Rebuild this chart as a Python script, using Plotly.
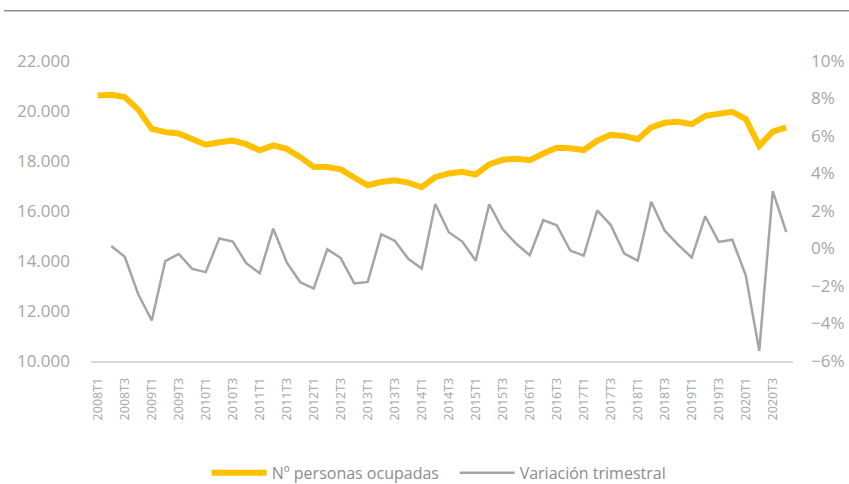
import plotly.graph_objects as go

years = list(range(2008, 2021))
quarters = [f"{y}T{q}" for y in years for q in range(1, 5)]

ocupados = [
    20620, 20646, 20556, 20055, 19284, 19154, 19098, 18890,
    18652, 18751, 18820, 18674, 18427, 18623, 18485, 18153,
    17765, 17758, 17667, 17339, 17030, 17160, 17230, 17135,
    16951, 17353, 17504, 17569, 17455, 17867, 18049, 18094,
    18029, 18301, 18528, 18508, 18438, 18813, 19049, 18998,
    18874, 19344, 19528, 19565, 19471, 19805, 19874, 19967,
    19681, 18607, 19177, 19344,
]

variacion = [
    None, 0.13, -0.44, -2.44, -3.84, -0.67, -0.29, -1.09,
    -1.26, 0.53, 0.37, -0.78, -1.32, 1.06, -0.74, -1.80,
    -2.14, -0.04, -0.51, -1.86, -1.78, 0.76, 0.41, -0.55,
    -1.07, 2.37, 0.87, 0.37, -0.65, 2.36, 1.02, 0.25,
    -0.36, 1.51, 1.24, -0.11, -0.38, 2.03, 1.25, -0.27,
    -0.65, 2.49, 0.95, 0.19, -0.48, 1.72, 0.35, 0.47,
    -1.43, -5.46, 3.06, 0.87,
]

tick_labels = quarters[::2]

FONT = "Open Sans"
TICK_COLOR = "#a6a6a6"

fig = go.Figure()
fig.add_trace(go.Scatter(
    x=quarters, y=ocupados, name="Nº personas ocupadas", mode="lines",
    line=dict(color="#FFC000", width=6), yaxis="y",
))
fig.add_trace(go.Scatter(
    x=quarters, y=variacion, name="Variación trimestral", mode="lines",
    line=dict(color="#A5A5A5", width=2.5), yaxis="y2", connectgaps=False,
))

fig.update_layout(
    width=849, height=484,
    margin=dict(l=91, r=56, t=61, b=123, autoexpand=False),
    paper_bgcolor="white", plot_bgcolor="white",
    separators=",.",
    font=dict(family=FONT, color=TICK_COLOR),
    xaxis=dict(
        type="category", range=[-0.5, len(quarters) - 0.5],
        tickmode="array", tickvals=tick_labels, ticktext=tick_labels,
        tickangle=-90, tickfont=dict(size=12.5, color=TICK_COLOR),
        showgrid=False, zeroline=False, automargin=False,
        showline=True, linecolor="#d9d9d9", linewidth=1.5,
        ticks="", ticklabelstandoff=10,
    ),
    yaxis=dict(
        range=[10000, 22000], dtick=2000, tickformat=",.0f",
        tickfont=dict(size=17, color=TICK_COLOR), automargin=False,
        showgrid=False, zeroline=False, showline=False,
        ticks="", ticklabelstandoff=20,
    ),
    yaxis2=dict(
        overlaying="y", side="right",
        range=[-6, 10], dtick=2, ticksuffix="%", automargin=False,
        tickfont=dict(size=17, color=TICK_COLOR),
        showgrid=False, zeroline=False, showline=False,
        ticks="", ticklabelstandoff=17,
    ),
    showlegend=True,
    legend=dict(
        orientation="h", x=0.518, xanchor="center", y=-0.373, yanchor="middle",
        font=dict(size=16, color="#8c8c8c", family=FONT),
        itemwidth=55, tracegroupgap=0, bgcolor="rgba(0,0,0,0)",
        entrywidth=178, entrywidthmode="pixels",
    ),
    shapes=[dict(
        type="line", xref="paper", yref="paper",
        x0=-0.124, x1=1.08, y0=1.1677, y1=1.1677,
        line=dict(color="#8c8c8c", width=1.5),
    )],
)

fig.write_html(
    "out.html",
    config={"displayModeBar": False},
    post_script="document.body.style.margin='0';document.body.style.overflow='hidden';",
)
